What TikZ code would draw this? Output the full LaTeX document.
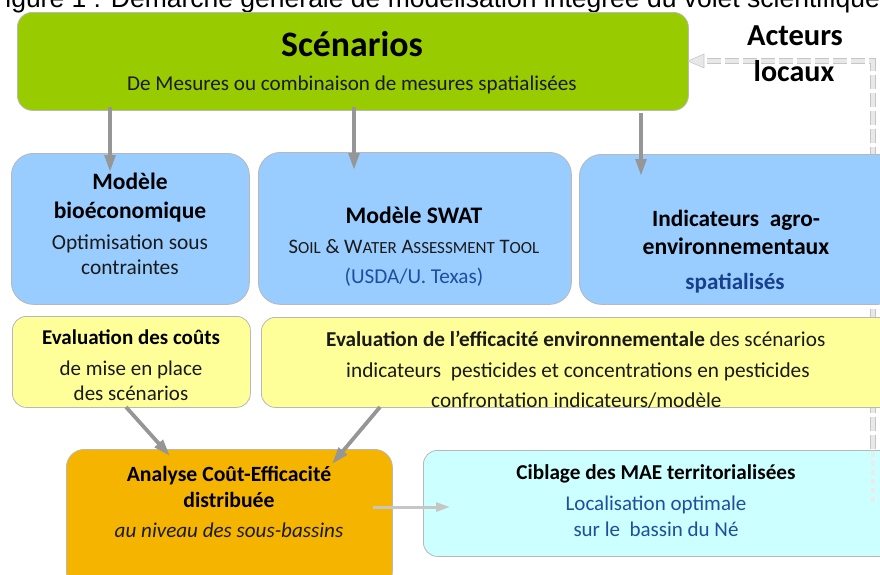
\documentclass[tikz,border=0pt]{standalone}
\usepackage{fontspec}
\setmainfont{Carlito}
\newfontfamily\arialf{Liberation Sans}
\usetikzlibrary{arrows.meta}
\definecolor{cgreen}{HTML}{99CC00}
\definecolor{cblue}{HTML}{99CCFF}
\definecolor{cyell}{HTML}{FFFF99}
\definecolor{corange}{HTML}{F4B400}
\definecolor{ccyan}{HTML}{CCFFFF}
\definecolor{cedge}{HTML}{B8B8B8}
\definecolor{ctxt}{HTML}{1A1A1A}
\definecolor{cbluet}{HTML}{1F4E9E}
\definecolor{cbluets}{HTML}{17408C}
\definecolor{carrow}{HTML}{969696}
\newcommand{\fs}[1]{\fontsize{#1}{#1}\selectfont}
\tikzset{
  x=1pt,y=-1pt,
  boxn/.style={draw=cedge,line width=0.8pt,inner sep=0pt,anchor=north west},
  tl/.style={inner sep=0pt,anchor=base,text=ctxt,font=\fs{21}},
  tb/.style={tl,font=\fs{21}\bfseries,text=black},
  flow/.style={draw=carrow,line width=3.8pt,-{Triangle[length=17pt,width=10.5pt]}},
  flowlight/.style={draw=cedge!80,line width=3pt,-{Triangle[length=14pt,width=9pt]}},
  fbout/.style={draw=gray!45,line width=6pt,dash pattern=on 14pt off 4pt},
  fbin/.style={draw=gray!18,line width=4pt,dash pattern=on 14pt off 4pt},
}
\begin{document}
\begin{tikzpicture}
\useasboundingbox (0,0) rectangle (880,574);
\clip (0,0) rectangle (880,574);
% title
\node (title) [inner sep=0pt,anchor=base west,font=\arialf\fs{26.5},text=black] at (-11,7) {Figure 1 : Démarche générale de modélisation intégrée du volet scientifique};
% feedback coordinates
\coordinate (fbstart) at (873,503);
\coordinate (fbcorner) at (873,61);
% dashed feedback behind the boxes
\draw[fbout] (fbstart) -- (fbcorner) -- (700,61);
\draw[fbin] (fbstart) -- (fbcorner) -- (700,61);
% boxes
\node (scen) [boxn,fill=cgreen,rounded corners=15pt,minimum width=671pt,minimum height=98pt] at (17,12) {};
\node (bio) [boxn,fill=cblue,rounded corners=22pt,minimum width=238pt,minimum height=151pt] at (11,153) {};
\node (swat) [boxn,fill=cblue,rounded corners=22pt,minimum width=313pt,minimum height=152pt] at (258,152) {};
\node (ind) [boxn,fill=cblue,rounded corners=22pt,minimum width=320pt,minimum height=150pt] at (579,154) {};
\node (ycost) [boxn,fill=cyell,rounded corners=14pt,minimum width=238pt,minimum height=91pt] at (12,316) {};
\node (yeff) [boxn,fill=cyell,rounded corners=14pt,minimum width=640pt,minimum height=90pt] at (261,317) {};
\node (ace) [boxn,fill=corange,rounded corners=18pt,minimum width=326pt,minimum height=140pt] at (66,449) {};
\node (mae) [boxn,fill=ccyan,rounded corners=14pt,minimum width=470pt,minimum height=106pt] at (423,450) {};
\draw[draw=gray!16,line width=4pt,dash pattern=on 5pt off 4pt] (873,452) -- (fbstart);
% texts
\node (t1) [tb,font=\fs{35.8}\bfseries] at (352,56) {Scénarios};
\node (t2) [tl,font=\fs{21.1}] at (352,90) {De Mesures ou combinaison de mesures spatialisées};
\node (t3) [tb,font=\fs{23.5}\bfseries] at (130,189) {Modèle};
\node (t4) [tb,font=\fs{23.5}\bfseries] at (130,218) {bioéconomique};
\node (t5) [tl,font=\fs{21.4}] at (130,249) {Optimisation sous};
\node (t6) [tl,font=\fs{21.4}] at (130,274) {contraintes};
\node (t7) [tb,font=\fs{23.7}\bfseries] at (414,223) {Modèle SWAT};
\node (t8) [tl,font=\fs{20.6}] at (414,253) {S{\fs{17}OIL} \& W{\fs{17}ATER} A{\fs{17}SSESSMENT} T{\fs{17}OOL}};
\node (t9) [tl,font=\fs{21.2},text=cbluet] at (414,283) {(USDA/U. Texas)};
\node (t10) [tb,font=\fs{23.3}\bfseries] at (736,226) {Indicateurs\ \ agro-};
\node (t11) [tb,font=\fs{23.7}\bfseries] at (736,254) {environnementaux};
\node (t12) [tb,font=\fs{23.1}\bfseries,text=cbluets] at (735,289) {spatialisés};
\node (t13) [tb,font=\fs{21}\bfseries] at (131,344) {Evaluation des coûts};
\node (t14) [tl,font=\fs{21}] at (131,375) {de mise en place};
\node (t15) [tl,font=\fs{21}] at (131,400) {des scénarios};
\node (t16) [tl,anchor=base west,font=\fs{21.2}] at (326,346) {\textbf{Evaluation de l’efficacité environnementale} des scénarios};
\node (t17) [tl,anchor=base west,font=\fs{21.3}] at (346,377) {indicateurs\ \ pesticides et concentrations en pesticides};
\node (t18) [tl,anchor=base west,font=\fs{21.2}] at (431,407) {confrontation indicateurs/modèle};
\node (t19) [tb,font=\fs{21.7}\bfseries] at (229,481) {Analyse Coût-Efficacité};
\node (t20) [tb,font=\fs{21.7}\bfseries] at (229,507) {distribuée};
\node (t21) [tl,font=\fs{21.1}\itshape] at (229,537) {au niveau des sous-bassins};
\node (t22) [tb,font=\fs{21.2}\bfseries] at (656,479) {Ciblage des MAE territorialisées};
\node (t23) [tl,font=\fs{21},text=cbluet] at (656,510) {Localisation optimale};
\node (t24) [tl,font=\fs{21},text=cbluet] at (656,536) {sur le\ \ bassin du Né};
\node (t25) [tb,font=\fs{30.5}\bfseries] at (795,45) {Acteurs};
\node (t26) [tb,font=\fs{30}\bfseries] at (794,81) {locaux};
% connectors
\coordinate (a1s) at (110,107);\coordinate (a1e) at (110,172);
\coordinate (a2s) at (354,107);\coordinate (a2e) at (354,170);
\coordinate (a3s) at (641,113);\coordinate (a3e) at (641,176);
\coordinate (a4s) at (126,407);\coordinate (a4e) at (170,456);
\coordinate (a5s) at (380,407);\coordinate (a5e) at (332,464);
\coordinate (a6s) at (373,507);\coordinate (a6e) at (450,507);
\coordinate (fbtip) at (688,61);
\draw[flow] (a1s) -- (a1e);
\draw[flow] (a2s) -- (a2e);
\draw[flow] (a3s) -- (a3e);
\draw[flow] (a4s) -- (a4e);
\draw[flow] (a5s) -- (a5e);
\draw[flowlight] (a6s) -- (a6e);
\draw[draw=gray!45,line width=0.6pt,fill=gray!18] (fbtip) -- (704,54) -- (704,68) -- cycle;
\end{tikzpicture}
\end{document}
